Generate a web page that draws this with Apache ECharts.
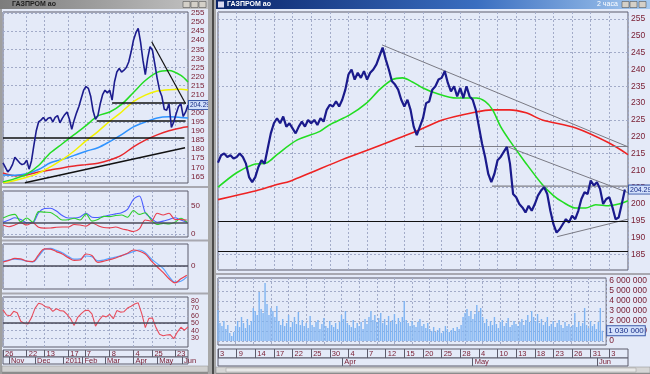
<!DOCTYPE html>
<html><head><meta charset="utf-8">
<script src="https://cdn.jsdelivr.net/npm/echarts@6/dist/echarts.min.js"></script>
<style>html,body{margin:0;padding:0;background:#e4eaf8;}#c{width:650px;height:374px;}</style>
</head><body><div id="c"></div>
<script>
// ================= DATA =================
// Left (daily) chart: x = trading-day index from 26 Oct 2010
const L_MAX = 156;
const leftPrice = [172.4,170,167.5,169,171.5,175.5,174,172.5,171.5,172,
 174,169,173.5,182,190,195,196,197.5,195.5,197,
 197.5,195,197.5,198.5,194.5,197,199,200.5,196.5,191,
 196,200,203.5,208,212.5,214.5,213.5,209,201,196.5,
 198.5,205,210,212.5,211,212.5,207,217,222.5,224.5,
 222.5,223.5,225,228,233.5,240,244,246.5,239,229,
 221,230,236.5,234.5,227,219,212.5,209,202,201.5,
 205,192,195,199.5,203.5,205,198,200.5,204.3]; // every 2 days
const leftMaIdx = [0,10,20,30,40,50,60,70,80,90,100,110,120,130,140,150,156];
const leftGreen  = [162,163.8,166.3,171,178,183,188,193,198.3,200.5,204.7,211.2,217.8,222.3,223.3,220.6,217];
const leftYellow = [161.5,162.8,164.5,166.8,170.3,174.2,179,184.6,189.7,195.4,200.5,206.2,209.8,212,212.8,213,212.6];
const leftBlue   = [165.8,165.7,166.5,168.8,172.5,174.4,176.6,178.9,180.8,184.2,188,192.3,195,197.2,197.8,197.5,197.2];
const leftRed    = [166.9,165.4,165.8,167.4,168.5,169.7,170.7,171.5,172.3,174,176.7,181.3,185,187.9,190.2,191.7,192.3];
const leftLevels = [[0,153,186.2],[79,154,195.5],[92,154,205.4]]; // [fromIdx, toIdx, price]
const leftTrendUp = [[18.5,161.5],[153.5,180.8]];
const leftTrendDown = [[125.4,239.2],[154,205]];
const leftLast = 204.29;
// indicators, every 5 days
const adxBlue  = [21,25,29,26,20,20,38,45.5,46,41,33,28.6,28.6,30.5,37,30,29.5,31.5,34,36,38,44,62,68,38,28,21,23,26,29,25,21];
const adxGreen = [28.6,33,35,22,28.5,21.5,40,39,38.5,32,25,25.5,28,25,36,23,26,31.5,31,33,34,30,42,35,38,25,17,19,18,21,28,21];
const adxRed   = [16,13,16,20,16,20,12,10.5,10.7,12,12.5,12.5,17,16,14,20,15,11.5,11,12.5,9.5,7,4.5,9,25,23,37,34,37,26,26,25];
const macdBlue = [1.2,1.5,1.7,1.6,1.2,1.0,2.4,4.1,4.4,3.9,3.3,2.4,1.7,1.8,2.5,2.3,1.3,1.5,1.9,2.2,2.6,3.1,3.6,4.0,3.3,1.8,0.6,-0.6,-2.6,-4.0,-3.8,-2.7];
const macdRed  = [1.0,1.4,1.9,1.8,1.2,1.1,2.8,4.3,4.2,3.6,3.0,2.1,1.4,1.5,3.0,2.6,0.9,1.2,1.6,2.0,2.6,3.2,4.0,3.7,3.0,1.3,-0.2,-1.6,-3.2,-4.2,-3.2,-2.3];
// RSI, every 3 days
const rsi = [68,61,60,66,64,52.5,49.5,49,57.5,70,77,75.5,72,71.5,66,69.5,67,66.5,62,56,47,58,63,67,67.5,62.5,46,54,60,58.5,62,56,67,65,65.5,70.5,73,76,77.5,63,44,56.5,57,44,35,33,34,34.5,29,38,44.5,40.5,45];
const leftPriceLabels = [165,170,175,180,185,190,195,200,205,210,215,220,225,230,235,240,245,250,255];
const leftPriceGrid = [165,175,185,195,205,215,225,235,245,255];
const adxLabels = [0,50];
const macdLabels = [0];
const rsiLabels = [30,40,50,60,70,80];
const leftDayIdx = [0,20,35,55,69,90,110,126,145];
const leftDayLabels = ['26','22','13','17','7','8','4','25','23'];
const leftMonthIdx = [5,27,51,67,86,110,130,151];
const leftMonthLabels = ['Nov','Dec','2011','Feb','Mar','Apr','May','Jun'];

// Right (intraday) chart: x = trading-day index from 3 Mar 2011
const R_MAX = 66;
const rightPrice = [212.3,214.5,215,214,214.5,213.5,214,215,214,212,
 208,206.5,208,211,213,212,216.5,221,224,225.5,
 224,226,223,224,222.5,221,223,224.5,223,225,
 224,225,223.5,225.5,224.5,228,229.5,229,230.5,229,
 231,234,238.5,240,237,239,237.5,239.5,237,239,
 240,241.5,244,246.5,243,240,236.5,235.5,234,231,
 229,231,228,223,220.5,223,225.5,230,230.5,234,
 235,237,237.5,239.5,236,233.5,235,232,234.5,231.5,
 235,232,231,228,223,218,214,209,206.5,209,
 213,214,215.5,217,212,203,202,200,199,197.5,
 199.5,198,200,202.5,204,205,203,198,194,191.5,
 192.5,194,195.5,194.5,196.5,195.5,198,201.5,203.5,203,
 207,205.5,206.5,204.5,200,201.5,202,199,195.5,196,
 200,204.3]; // two per day
const rightGreenIdx = [0,3,5.6,7.9,9.5,12.7,16.4,18,21.2,23.9,26,28.1,29.7,31.3,33,35,38.4,41.6,43,44.2,45.5,46.9,49.5,52.2,54,55.4,57.6,59.2,60.8,62.9,64.5,66];
const rightGreen    = [205,209.3,211.7,212.3,214.7,219,221.6,223.6,226.5,230,234,237,237.5,236.3,234.5,233,231.5,231.5,230.5,228,223,219,212.3,205.8,202.5,200.7,198.8,198.8,199.8,199.5,200,201];
const rightRedIdx = [0,5.6,9.5,11.6,14.9,20,25.5,31.9,36.1,41.6,44.1,46.9,49.6,52.2,57.6,62.9,66];
const rightRed    = [201.3,203.7,205.8,206.8,209.3,213.2,217,221.6,225,227.4,228,228,227.1,225,222.6,218.2,214.7];
const rightBlackLevels = [186,195];
const rightGrayLevels = [[31.7,66,217.1],[44.1,66,205.3]]; // [fromIdx,toIdx,price]
const rightTrendUpper = [[26.4,247.3],[66,217]];
const rightTrendMiddle = [[46.5,217.1],[66,203.4]];
const rightTrendLower = [[54.6,190.3],[66,195.5]];
const rightLast = 204.29;
// volume, millions, three per day
const volume = [3.1,1.8,1.5,2.0,1.2,1.6,0.8,0.5,0.9,
 1.5,2.0,1.4,2.4,1.8,1.3,2.2,1.6,2.0,3.3,
 3.0,2.6,4.9,3.2,2.8,5.8,3.7,2.6,3.3,3.0,2.4,3.5,
 2.0,1.6,2.2,1.5,1.8,2.6,1.4,1.9,2.4,1.7,2.9,1.6,2.1,
 1.5,1.8,1.3,2.5,1.6,1.4,1.9,2.1,1.2,1.7,2.3,1.5,1.3,2.0,1.6,1.4,1.8,1.2,1.9,
 2.6,2.2,3.0,1.8,
 1.6,1.4,2.1,1.3,1.8,1.5,1.9,1.2,2.2,1.7,2.4,3.0,2.1,
 2.6,1.9,2.3,2.8,1.8,2.2,1.6,2.5,1.9,2.1,2.7,1.7,2.3,1.9,2.4,4.0,
 2.1,1.8,1.5,2.0,1.6,1.4,1.9,2.2,1.5,1.7,1.3,1.8,
 1.2,1.0,1.4,0.9,1.1,1.3,0.8,1.0,1.5,1.2,0.9,1.1,1.3,1.0,1.4,1.2,1.6,
 2.4,2.8,3.2,2.5,3.0,2.2,2.7,3.6,2.9,3.3,2.4,
 1.8,2.2,1.5,2.0,1.6,2.4,1.7,1.3,1.9,2.1,1.5,1.8,2.3,1.4,1.6,2.0,1.7,1.5,1.9,2.2,1.6,
 2.1,2.6,1.9,3.0,2.4,2.0,2.7,
 1.8,2.2,1.6,1.9,2.4,1.5,1.7,2.0,1.4,1.8,2.1,1.6,1.3,1.9,1.5,1.7,1.4,
 1.6,2.8,1.4,1.9,1.5,1.8,3.3,1.6,1.3,2.0,1.5,1.7,1.2,1.9,3.3,1.03];
const rightPriceLabels = [185,190,195,200,205,210,215,220,225,230,235,240,245,250,255];
const rightPriceGrid = [185,195,205,215,225,235,245,255];
const volLabels = [0,1,2,3,4,5,6];
const rightDayLabels = ['3','9','14','17','22','25','30','4','7','12','15','20','25','28','4','10','13','18','23','26','31','3'];
const rightDayIdx = rightDayLabels.map((_, i) => i * 3);
const rightMonthIdx = [20,41,61];
const rightMonthLabels = ['Apr','May','Jun'];
const titleText = 'ГАЗПРОМ ао';
const periodText = '2 часа';

// ================= CHART =================
const FONT = 'Liberation Sans';
const LBL = '#7a2035';
const BG = '#e4eaf8';
const BORDER = '#5c5c6c';
const GRIDLINE = {show:true, lineStyle:{color:'#a2abc8', type:[2,2], width:1}};
const fmtVol = v => String(Math.round(v * 1e6)).replace(/\B(?=(\d{3})+(?!\d))/g, ' ');

function grid(l,t,w,h){ return {left:l, top:t, width:w, height:h, show:true, backgroundColor:BG, borderColor:BORDER, borderWidth:1}; }
const grids = [grid(3,12,185,171), grid(3,191,185,46), grid(3,244,185,45), grid(3,297,185,50),
  grid(3,350,185,7), grid(3,357,185,7),
  grid(218,12,410,258), grid(218,278,410,67), grid(218,349,410,9), grid(218,358,410,8)];

function plotX(gi, max, ticks){
  const ax = {gridIndex:gi, type:'value', min:0, max, axisLine:{show:false,onZero:false}, axisLabel:{show:false},
    axisTick:{show:false}, splitLine:GRIDLINE};
  if (ticks) ax.axisTick.customValues = ticks; else ax.interval = 3;
  return ax;
}
function rowX(gi, max, ticks, labels, h){
  return {gridIndex:gi, type:'value', min:0, max, position:'top',
    axisLine:{show:false,onZero:false}, splitLine:{show:false},
    axisTick:{show:true, inside:true, length:h, customValues:ticks, lineStyle:{color:BORDER,width:1}},
    axisLabel:{show:true, inside:true, margin:0, customValues:ticks, align:'left', verticalAlign:'top',
      padding:[0,0,0,2], fontSize:7.5, lineHeight:h, color:LBL, fontFamily:FONT, hideOverlap:false,
      formatter: v => { const k = ticks.indexOf(v); return k >= 0 ? labels[k] : ''; }}};
}
function plotY(gi, min, max, gridVals, labelVals, fs, fmt){
  return {gridIndex:gi, type:'value', position:'right', min, max, axisLine:{show:false},
    axisTick:{show:false, customValues:gridVals}, splitLine:GRIDLINE,
    axisLabel:{show:true, customValues:labelVals, margin:3, color:LBL, fontSize:fs, fontFamily:FONT, formatter:fmt,
      showMinLabel:true, showMaxLabel:true, hideOverlap:false}};
}
const hidY = gi => ({gridIndex:gi, type:'value', min:0, max:1, show:false});

const xAxes = [plotX(0,L_MAX,leftDayIdx), plotX(1,L_MAX,leftDayIdx), plotX(2,L_MAX,leftDayIdx), plotX(3,L_MAX,leftDayIdx),
  rowX(4,L_MAX,leftDayIdx,leftDayLabels,7), rowX(5,L_MAX,leftMonthIdx,leftMonthLabels,7),
  plotX(6,R_MAX), plotX(7,R_MAX),
  rowX(8,R_MAX,rightDayIdx,rightDayLabels,9), rowX(9,R_MAX,rightMonthIdx,rightMonthLabels,8)];
const yAxes = [
  plotY(0,161.38,255.55,leftPriceGrid,leftPriceLabels,8),
  plotY(1,-5.36,76.8,adxLabels,adxLabels,8),
  plotY(2,-5.75,5.5,macdLabels,macdLabels,8),
  plotY(3,17.8,85.4,rsiLabels,rsiLabels,7),
  hidY(4), hidY(5),
  plotY(6,180.39,257.08,rightPriceGrid,rightPriceLabels,8.5),
  plotY(7,-0.39,6.29,volLabels,volLabels,8.5,fmtVol),
  hidY(8), hidY(9)];

function line(xi, data, color, width, extra){
  return Object.assign({type:'line', xAxisIndex:xi, yAxisIndex:xi, data, symbol:'none', showSymbol:false,
    lineStyle:{color, width}, silent:true, animation:false, z:3}, extra || {});
}
const pairs = (idx, vals) => vals.map((v,i) => [idx[i], v]);
const stepped = (vals, step) => vals.map((v,i) => [i*step, v]);
const seg = a => [[a[0],a[2]],[a[1],a[2]]];
function levelMark(vals, color, width){
  return {silent:true, symbol:'none', animation:false, label:{show:false},
    lineStyle:{color, width, type:'solid'}, data: vals.map(v => ({yAxis:v}))};
}
function lastLabel(val, text, fs){
  return {silent:true, symbol:'none', animation:false, lineStyle:{color:'rgba(0,0,0,0)', width:1, type:'solid'},
    data:[{yAxis:val}],
    label:{show:true, position:'end', distance:1, formatter:text, backgroundColor:'#d2e0fb', borderColor:'#3a58a8',
      borderWidth:1, padding:[1,1,0,1], color:'#152a85', fontSize:fs, fontFamily:FONT}};
}

const series = [
  // left price panel
  line(0, pairs(leftMaIdx,leftRed), '#e8282c', 1.5, {smooth:0.3}),
  line(0, pairs(leftMaIdx,leftBlue), '#2f93ff', 1.5, {smooth:0.3}),
  line(0, pairs(leftMaIdx,leftYellow), '#f2f200', 1.5, {smooth:0.3}),
  line(0, pairs(leftMaIdx,leftGreen), '#22dd22', 1.5, {smooth:0.3}),
  ...leftLevels.map(l => line(0, seg(l), '#111111', 1.5)),
  line(0, leftTrendUp, '#111111', 1.5),
  line(0, leftTrendDown, '#111111', 1.2),
  line(0, stepped(leftPrice,2), '#1c1c8e', 1.6, {z:4}),
  line(0, [[L_MAX,leftLast]], '#1c1c8e', 1, {markLine:lastLabel(leftLast,'204.29',6.5)}),
  // ADX
  line(1, stepped(adxBlue,5), '#4a5cff', 1.1, {smooth:0.3}),
  line(1, stepped(adxGreen,5), '#2fcf2f', 1.1, {smooth:0.3}),
  line(1, stepped(adxRed,5), '#e83c4c', 1.1, {smooth:0.3, markLine:levelMark([20],'#4a4a5a',1.5)}),
  // MACD
  line(2, stepped(macdBlue,5), '#5aa2ff', 1.2, {smooth:0.4}),
  line(2, stepped(macdRed,5), '#e84050', 1.2, {smooth:0.4, markLine:levelMark([0],'#4a4a5a',1.5)}),
  // RSI
  line(3, stepped(rsi,3), '#e84c5c', 1.1, {markLine:levelMark([50],'#4a4a5a',1.5)}),
  // right price panel
  line(6, pairs(rightRedIdx,rightRed), '#ee2222', 1.6, {smooth:0.3}),
  line(6, pairs(rightGreenIdx,rightGreen), '#22dd22', 1.6, {smooth:0.3}),
  ...rightGrayLevels.map(l => line(6, seg(l), '#808088', 1.2)),
  line(6, rightTrendUpper, '#7a7a84', 1),
  line(6, rightTrendMiddle, '#7a7a84', 1),
  line(6, rightTrendLower, '#7a7a84', 1),
  line(6, stepped(rightPrice,0.5), '#1a1a8c', 2.2, {z:4, markLine:levelMark(rightBlackLevels,'#111111',1.2)}),
  line(6, [[R_MAX,rightLast]], '#1a1a8c', 1, {markLine:lastLabel(rightLast,'204.29',7)}),
  // volume
  {type:'bar', xAxisIndex:7, yAxisIndex:7, data: volume.map((v,i)=>[i/3, v]), barWidth:1.4,
    itemStyle:{color:'#7fb4f2'}, silent:true, animation:false},
  line(7, [[R_MAX, volume[volume.length-1]]], '#7fb4f2', 1,
    {markLine:lastLabel(volume[volume.length-1], fmtVol(volume[volume.length-1]), 8)})
];

const grayGrad = {type:'linear',x:0,y:0,x2:1,y2:0,colorStops:[{offset:0,color:'#7c7c7c'},{offset:1,color:'#c4c4c4'}]};
const blueGrad = {type:'linear',x:0,y:0,x2:1,y2:0,colorStops:[{offset:0,color:'#0a246a'},{offset:0.6,color:'#3a6ec0'},{offset:1,color:'#a6caf0'}]};
const btn = (x,y) => ({type:'rect', shape:{x,y,width:7,height:6}, style:{fill:'#d4d0c8', stroke:'#404040', lineWidth:0.5}, z:60});
const graphic = [
  {type:'rect', shape:{x:0,y:0,width:2,height:374}, style:{fill:'#a0a0a0'}, z:50},
  {type:'rect', shape:{x:208,y:0,width:8,height:374}, style:{fill:'#a8a8a8'}, z:50},
  {type:'rect', shape:{x:212,y:0,width:2,height:374}, style:{fill:'#4a4a4a'}, z:51},
  {type:'rect', shape:{x:0,y:0,width:208,height:9}, style:{fill:grayGrad}, z:52},
  {type:'text', x:12, y:1, style:{text:titleText, fill:'#1e1e1e', font:'bold 7px Liberation Sans'}, z:53},
  btn(183,1.5), btn(191,1.5), btn(199,1.5),
  {type:'rect', shape:{x:216,y:0,width:434,height:9}, style:{fill:blueGrad}, z:52},
  {type:'rect', shape:{x:218,y:1.5,width:6,height:6}, style:{fill:'#d8d8f0'}, z:53},
  {type:'text', x:227, y:1, style:{text:titleText, fill:'#ffffff', font:'bold 7px Liberation Sans'}, z:53},
  {type:'text', x:597, y:1, style:{text:periodText, fill:'#ffffff', font:'7px Liberation Sans'}, z:53},
  btn(622,1.5), btn(630,1.5), btn(639,1.5),
  {type:'rect', shape:{x:2,y:186,width:206,height:2}, style:{fill:'#a8a8b0'}, z:50},
  {type:'rect', shape:{x:2,y:239.5,width:206,height:2}, style:{fill:'#a8a8b0'}, z:50},
  {type:'rect', shape:{x:2,y:292.5,width:206,height:2}, style:{fill:'#a8a8b0'}, z:50},
  {type:'rect', shape:{x:216,y:273,width:434,height:2}, style:{fill:'#a8a8b0'}, z:50},
  {type:'rect', shape:{x:2,y:366,width:206,height:6}, style:{fill:'#cfcfcf', stroke:'#8a8a8a', lineWidth:0.5}, z:50},
  {type:'rect', shape:{x:2,y:372,width:206,height:2}, style:{fill:'#8c8c8c'}, z:50},
  {type:'rect', shape:{x:216,y:367,width:434,height:6}, style:{fill:'#d6d6d6', stroke:'#8a8a8a', lineWidth:0.5}, z:50},
  {type:'rect', shape:{x:226,y:368,width:410,height:4}, style:{fill:'#e8e8e8', stroke:'#9a9a9a', lineWidth:0.5}, z:51},
  {type:'rect', shape:{x:216,y:373,width:434,height:1}, style:{fill:'#8c8c8c'}, z:50}
];

const chart = echarts.init(document.getElementById('c'), null, {renderer:'canvas', width:650, height:374});
chart.setOption({animation:false, backgroundColor:BG, grid:grids, xAxis:xAxes, yAxis:yAxes, series, graphic});
</script></body></html>
